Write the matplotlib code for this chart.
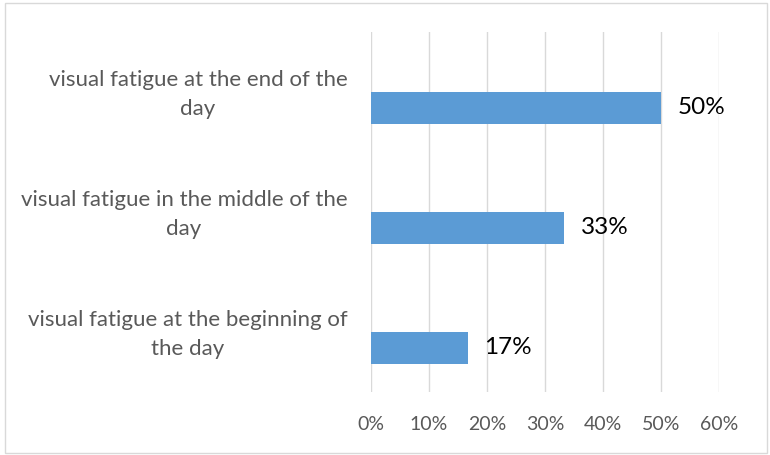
import matplotlib.pyplot as plt
import matplotlib.transforms as mtransforms
from matplotlib.patches import Rectangle

categories = ["visual fatigue at the beginning of\nthe day",
              "visual fatigue in the middle of the\nday",
              "visual fatigue at the end of the\nday"]
values = [0.1667, 0.3333, 0.5]
labels = ["17%", "33%", "50%"]
xticks = [0, 0.1, 0.2, 0.3, 0.4, 0.5, 0.6]
xticklabels = ["0%", "10%", "20%", "30%", "40%", "50%", "60%"]

plt.rcParams['font.family'] = ['Lato', 'DejaVu Sans']

fig = plt.figure(figsize=(7.7, 4.55), dpi=100)
ax = fig.add_axes([371/770, 1-392/455, (719-371)/770, 360/455])

ax.barh(range(3), values, height=0.267, color="#5b9bd5", zorder=2)
for i, v in enumerate(values):
    ax.text(v + 0.029, i, labels[i], va="center", ha="left", fontsize=17.5, color="black")

ax.set_xlim(0, 0.6)
ax.set_ylim(-0.3667, 2.6333)
ax.set_xticks(xticks)
ax.set_xticklabels(xticklabels)
ax.set_yticks(range(3))
ax.set_yticklabels(categories, linespacing=1.58)
ax.tick_params(axis="x", length=0, labelsize=14, colors="#595959", pad=17)
ax.tick_params(axis="y", length=0, labelsize=16, colors="#595959", pad=17)

# shift category labels up a bit, like the original
offset = mtransforms.ScaledTranslation(0, 0.20, fig.dpi_scale_trans)
for t in ax.get_yticklabels():
    t.set_multialignment("center")
    t.set_transform(t.get_transform() + offset)

ax.grid(axis="x", color="#d9d9d9", linewidth=1, zorder=0)
for s in ax.spines.values():
    s.set_visible(False)

fig.patches.append(Rectangle((5/770, 2/455), 762/770, 450/455, transform=fig.transFigure,
                             fill=False, edgecolor="#d9d9d9", linewidth=1))

fig.savefig("out.png", dpi=100)
